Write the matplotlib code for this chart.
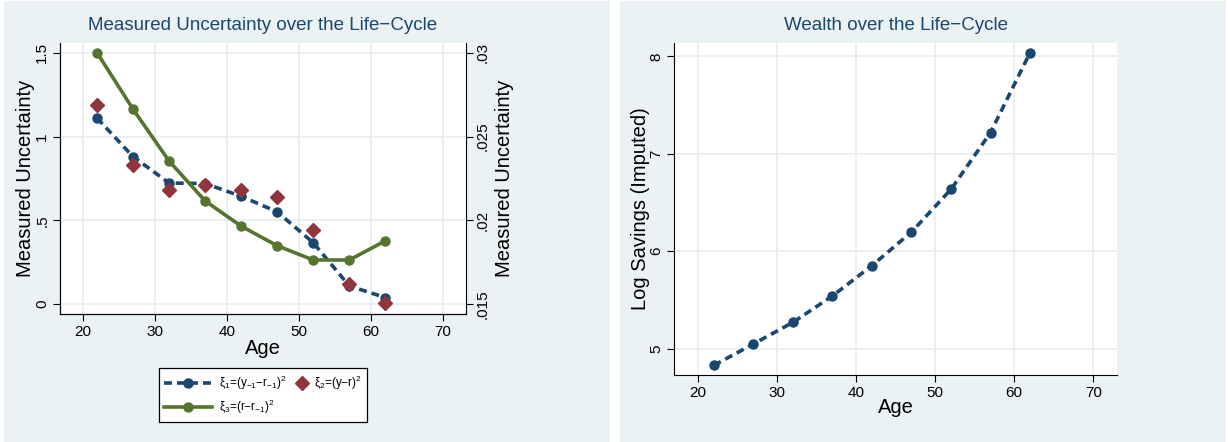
import numpy as np
import matplotlib.pyplot as plt
from matplotlib.patches import Rectangle
from matplotlib.legend_handler import HandlerLine2D

# dane
age = [22, 27, 32, 37, 42, 47, 52, 57, 62]
xi1 = [1.110, 0.880, 0.723, 0.720, 0.644, 0.551, 0.367, 0.109, 0.040]
xi2 = [1.187, 0.832, 0.680, 0.713, 0.684, 0.642, 0.442, 0.119, 0.008]
xi3 = [0.0300, 0.02663, 0.02354, 0.02116, 0.01966, 0.01849, 0.01764, 0.01764, 0.01878]
log_sav = [4.829, 5.048, 5.270, 5.541, 5.852, 6.197, 6.635, 7.217, 8.038]

fam = "Liberation Sans"
plt.rcParams["font.family"] = [fam, "DejaVu Sans"]
plt.rcParams["mathtext.fontset"] = "custom"
plt.rcParams["mathtext.rm"] = fam
plt.rcParams["mathtext.default"] = "regular"

navy = "#1a476f"
maroon = "#90353b"
green = "#55752f"
bg = "#eaf2f3"
grid_c = "#e6eef0"

fig = plt.figure(figsize=(12.28, 4.42), dpi=100)
fig.patches.append(Rectangle((4 / 1228, 0), 606 / 1228, 0.998, transform=fig.transFigure,
                             facecolor=bg, edgecolor="none", zorder=-10))
fig.patches.append(Rectangle((620 / 1228, 0), 606 / 1228, 0.998, transform=fig.transFigure,
                             facecolor=bg, edgecolor="none", zorder=-10))


def style(ax):
    ax.set_facecolor("white")
    ax.spines["top"].set_visible(False)
    ax.grid(True, color=grid_c, lw=1.2)
    ax.set_axisbelow(True)
    ax.tick_params(direction="out", length=5, width=0.8, labelsize=11, pad=3)
    for lab in ax.get_yticklabels():
        lab.set_rotation(90)
        lab.set_va("center")


class MarkerRight(HandlerLine2D):
    # marker przy prawym koncu uchwytu (jak w Stata)
    def create_artists(self, legend, orig_handle, xdescent, ydescent, width, height,
                       fontsize, trans):
        arts = super().create_artists(legend, orig_handle, xdescent, ydescent, width,
                                      height, fontsize, trans)
        for a in arts:
            x = np.asarray(a.get_xdata(), dtype=float)
            a.set_xdata(np.full_like(x, x[-1] - 3))
        return arts


# lewy wykres
ax1 = fig.add_axes([0.0491, 0.2889, 0.3301, 0.6145])
l1, = ax1.plot(age, xi1, color=navy, lw=2.6, ls=(0, (2.2, 1.4)), marker="o", ms=6.5)
l2, = ax1.plot(age, xi2, color=maroon, ls="none", marker="D", ms=7)
ax1.set_xlim(16.9, 73.15)
ax1.set_ylim(-0.06, 1.56)
ax1.set_xticks([20, 30, 40, 50, 60, 70])
ax1.set_yticks([0, 0.5, 1, 1.5])
ax1.set_yticklabels(["0", ".5", "1", "1.5"])
ax1.spines["right"].set_visible(False)
style(ax1)
ax1.set_xlabel("Age", fontsize=14.5)
ax1.set_ylabel("Measured Uncertainty", fontsize=14.5)
ax1.xaxis.set_label_coords(0.5, -0.091)
ax1.yaxis.set_label_coords(-0.062, 0.5)
ax1.set_title("Measured Uncertainty over the Life\u2212Cycle", fontsize=13.5, color=navy, pad=9)

ax2 = ax1.twinx()
l3, = ax2.plot(age, xi3, color=green, lw=2.6, marker="o", ms=6.5)
ax2.set_ylim(0.015 - 0.0006, 0.015 + 0.0156)
ax2.set_yticks([0.015, 0.02, 0.025, 0.03])
ax2.set_yticklabels([".015", ".02", ".025", ".03"])
ax2.spines["top"].set_visible(False)
ax2.tick_params(direction="out", length=5, width=0.8, labelsize=11, pad=2)
for lab in ax2.get_yticklabels():
    lab.set_rotation(90)
    lab.set_va("center")
ax2.set_ylabel("Measured Uncertainty", fontsize=14.5)
ax2.yaxis.set_label_coords(1.072, 0.5)

leg = fig.legend([l1, l3, l2],
                 [r"$\xi_1$=(y$_{-1}$$-$r$_{-1}$)$^2$",
                  r"$\xi_3$=(r$-$r$_{-1}$)$^2$",
                  r"$\xi_2$=(y$-$r)$^2$"],
                 ncol=2, loc="center", bbox_to_anchor=(263 / 1228, 1 - 395 / 442),
                 frameon=True, fancybox=False, edgecolor="black", facecolor="white",
                 framealpha=1, fontsize=8.5, handlelength=4.0, columnspacing=-2.3,
                 handletextpad=0.6, borderpad=0.5, labelspacing=0.45,
                 handler_map={l2: MarkerRight()})
leg.get_frame().set_linewidth(0.9)

# prawy wykres
ax3 = fig.add_axes([0.5491, 0.1516, 0.3605, 0.7518])
ax3.plot(age, log_sav, color=navy, lw=2.6, ls=(0, (2.2, 1.4)), marker="o", ms=6.5)
ax3.set_xlim(17.0, 73.0)
ax3.set_ylim(4.73, 8.14)
ax3.set_xticks([20, 30, 40, 50, 60, 70])
ax3.set_yticks([5, 6, 7, 8])
ax3.spines["right"].set_visible(False)
style(ax3)
ax3.set_xlabel("Age", fontsize=14.5)
ax3.set_ylabel("Log Savings (Imputed)", fontsize=14.5)
ax3.xaxis.set_label_coords(0.5, -0.069)
ax3.yaxis.set_label_coords(-0.055, 0.5)
ax3.set_title("Wealth over the Life\u2212Cycle", fontsize=13.5, color=navy, pad=9)

fig.savefig("out.png", dpi=100)
